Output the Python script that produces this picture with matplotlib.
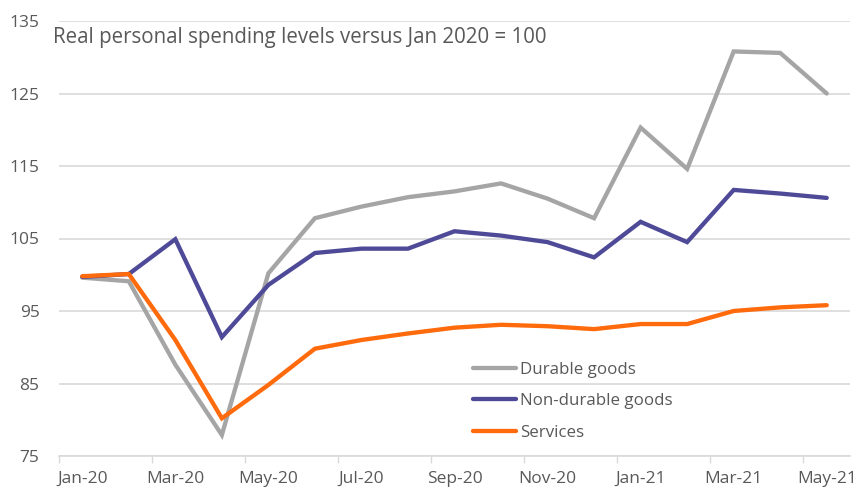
import matplotlib.pyplot as plt

months = ["Jan-20", "Feb-20", "Mar-20", "Apr-20", "May-20", "Jun-20", "Jul-20",
          "Aug-20", "Sep-20", "Oct-20", "Nov-20", "Dec-20", "Jan-21", "Feb-21",
          "Mar-21", "Apr-21", "May-21"]

durable = [99.6, 99.1, 87.6, 77.9, 100.2, 107.8, 109.4, 110.7, 111.5, 112.6,
           110.5, 107.8, 120.3, 114.6, 130.8, 130.6, 125.0]
non_durable = [99.7, 100.1, 104.9, 91.4, 98.6, 103.0, 103.6, 103.6, 106.0, 105.4,
               104.5, 102.4, 107.3, 104.5, 111.7, 111.2, 110.6]
services = [99.8, 100.1, 91.0, 80.2, 84.8, 89.8, 91.0, 91.9, 92.7, 93.1,
            92.9, 92.5, 93.2, 93.2, 95.0, 95.5, 95.8]

y_ticks = [75, 85, 95, 105, 115, 125, 135]

TEXT = "#595959"
GRID = "#d9d9d9"

plt.rcParams["font.family"] = ["Open Sans", "DejaVu Sans"]

fig = plt.figure(figsize=(8.58, 4.88), dpi=100)
ax = fig.add_axes([59 / 858, 32 / 488, 791 / 858, 435 / 488])

x = list(range(len(months)))
series = [
    (durable, "Durable goods", "#a5a5a5"),
    (non_durable, "Non-durable goods", "#4e4a98"),
    (services, "Services", "#ff6a0d"),
]
for values, label, color in series:
    ax.plot(x, values, color=color, lw=3.1, label=label,
            solid_capstyle="round", solid_joinstyle="miter")

ax.set_xlim(-0.5, len(months) - 0.5)
ax.set_ylim(75, 135)

# labels every other month, tick marks on the category boundaries
ax.set_xticks(x[::2])
ax.set_xticklabels(months[::2])
ax.set_xticks([i - 0.5 for i in x[::2]], minor=True)
ax.tick_params(axis="x", which="major", length=0, pad=11, labelsize=12.5,
               labelcolor=TEXT)
ax.tick_params(axis="x", which="minor", length=5, width=1, color=GRID)

ax.set_yticks(y_ticks)
ax.tick_params(axis="y", length=0, pad=14, labelsize=12.5, labelcolor=TEXT)
ax.yaxis.grid(True, color=GRID, lw=1.2)
ax.set_axisbelow(True)

for side in ["left", "right", "top"]:
    ax.spines[side].set_visible(False)
ax.spines["bottom"].set_color(GRID)
ax.spines["bottom"].set_linewidth(1.2)

ax.text(53 / 858, 1 - 38 / 488, "Real personal spending levels versus Jan 2020 = 100",
        transform=fig.transFigure, fontsize=14.8, color=TEXT, va="center", ha="left")

leg = ax.legend(loc="upper left", bbox_to_anchor=(466 / 858, 1 - 355 / 488),
                bbox_transform=fig.transFigure, frameon=False, fontsize=12.2,
                handlelength=2.55, handletextpad=0.25, labelspacing=0.92,
                borderaxespad=0)
for text in leg.get_texts():
    text.set_color(TEXT)

fig.savefig("out.png", dpi=100)
